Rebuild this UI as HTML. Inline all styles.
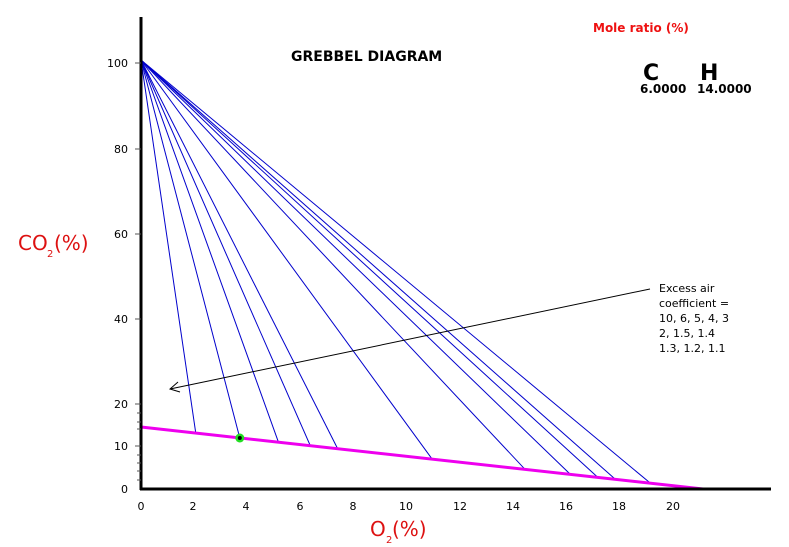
<!DOCTYPE html>
<html><head><meta charset="utf-8"><style>
html,body{margin:0;padding:0;background:#fff;width:789px;height:547px;overflow:hidden}
svg{display:block}
text{font-family:"DejaVu Sans","Liberation Sans",sans-serif}
</style></head><body>
<svg width="789" height="547" viewBox="0 0 789 547" xmlns="http://www.w3.org/2000/svg">
<g stroke="#0000cc" stroke-width="1" fill="none">
<line x1="141" y1="60" x2="195.8" y2="433.3"/>
<line x1="141" y1="60" x2="239.8" y2="438"/>
<line x1="141" y1="60" x2="278.5" y2="442.3"/>
<line x1="141" y1="60" x2="310.3" y2="445.7"/>
<line x1="141" y1="60" x2="337.8" y2="449"/>
<line x1="141" y1="60" x2="432.3" y2="459.3"/>
<line x1="141" y1="60" x2="525" y2="469.3"/>
<line x1="141" y1="60" x2="570" y2="474"/>
<line x1="141" y1="60" x2="597.7" y2="477.3"/>
<line x1="141" y1="60" x2="615.3" y2="479.3"/>
<line x1="141" y1="60" x2="650.5" y2="483.3"/>
</g>
<line x1="141" y1="427" x2="703" y2="489" stroke="#ee00ee" stroke-width="3"/>
<circle cx="239.8" cy="438" r="4.5" fill="#22dd22"/>
<circle cx="239.8" cy="438" r="2" fill="#000"/>
<!-- axes -->
<line x1="141" y1="17" x2="141" y2="490" stroke="#000" stroke-width="3"/>
<line x1="140" y1="489" x2="771" y2="489" stroke="#000" stroke-width="3"/>
<g stroke="#555" stroke-width="1">
<line x1="135" y1="63" x2="141" y2="63"/><line x1="135" y1="149" x2="141" y2="149"/>
<line x1="135" y1="234" x2="141" y2="234"/><line x1="135" y1="319" x2="141" y2="319"/>
<line x1="135" y1="404" x2="141" y2="404"/><line x1="135" y1="446" x2="141" y2="446"/>
<line x1="137" y1="413" x2="141" y2="413"/><line x1="137" y1="422" x2="141" y2="422"/>
<line x1="137" y1="429" x2="141" y2="429"/><line x1="137" y1="455" x2="141" y2="455"/>
<line x1="137" y1="463" x2="141" y2="463"/><line x1="137" y1="471" x2="141" y2="471"/>
<line x1="137" y1="480" x2="141" y2="480"/>
</g>
<g font-size="11" fill="#000" text-anchor="end">
<text x="128" y="67">100</text><text x="128" y="153">80</text><text x="128" y="238">60</text>
<text x="128" y="323">40</text><text x="128" y="408">20</text><text x="128" y="450">10</text>
<text x="128" y="493">0</text>
</g>
<g font-size="11" fill="#000" text-anchor="middle">
<text x="141" y="510">0</text><text x="193" y="510">2</text><text x="246" y="510">4</text>
<text x="300" y="510">6</text><text x="353" y="510">8</text><text x="406" y="510">10</text>
<text x="460" y="510">12</text><text x="513" y="510">14</text><text x="566" y="510">16</text>
<text x="619" y="510">18</text><text x="673" y="510">20</text>
</g>
<text x="370" y="536" font-size="20" fill="#dd1111">O</text>
<text x="386" y="543" font-size="10" fill="#dd1111">2</text>
<text x="392" y="536" font-size="20" fill="#dd1111">(%)</text>
<text x="18" y="250" font-size="20" fill="#dd1111">CO</text>
<text x="47" y="257" font-size="10" fill="#dd1111">2</text>
<text x="54" y="250" font-size="20" fill="#dd1111">(%)</text>
<text x="291" y="61" font-size="14" font-weight="bold" fill="#000">GREBBEL DIAGRAM</text>
<text x="593" y="32" font-size="12" font-weight="bold" fill="#ee1111">Mole ratio (%)</text>
<text x="643" y="80" font-size="22" font-weight="bold" fill="#000">C</text>
<text x="700" y="80" font-size="22" font-weight="bold" fill="#000">H</text>
<text x="640" y="93" font-size="12" font-weight="bold" fill="#000">6.0000</text>
<text x="697" y="93" font-size="12" font-weight="bold" fill="#000">14.0000</text>
<g font-size="11" fill="#000">
<text x="659" y="292">Excess air</text><text x="659" y="307">coefficient =</text>
<text x="659" y="322">10, 6, 5, 4, 3</text><text x="659" y="337">2, 1.5, 1.4</text>
<text x="659" y="352">1.3, 1.2, 1.1</text>
</g>
<line x1="650" y1="289" x2="170" y2="389" stroke="#000" stroke-width="1"/>
<polyline points="178,382 170,389 180,392" fill="none" stroke="#000" stroke-width="1"/>
</svg>
</body></html>
